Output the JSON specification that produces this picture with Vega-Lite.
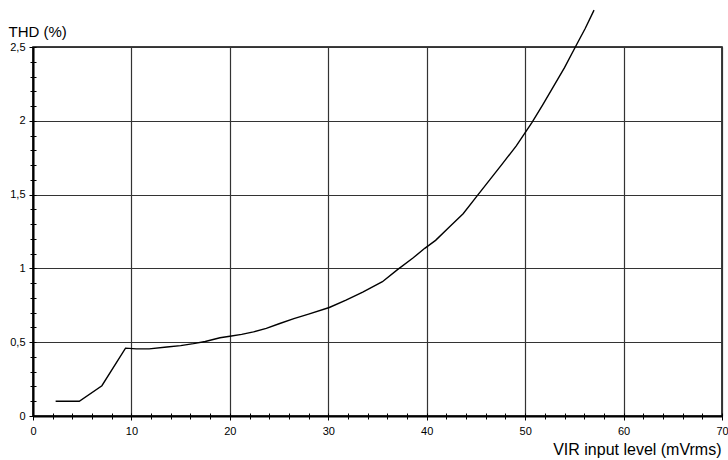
{
  "$schema": "https://vega.github.io/schema/vega-lite/v6.json",
  "width": 689,
  "height": 369,
  "autosize": {"type": "none"},
  "padding": {"left": 33, "top": 47, "right": 6, "bottom": 44},
  "background": "white",
  "config": {
    "view": {"stroke": "#000", "strokeWidth": 1.5},
    "font": "Liberation Sans",
    "axis": {"labelFont": "Liberation Sans", "titleFont": "Liberation Sans", "labelColor": "#000", "titleColor": "#000"}
  },
  "data": {"values": [
    {"x": 2.3, "thd": 0.1},
    {"x": 4.7, "thd": 0.1},
    {"x": 7.0, "thd": 0.205},
    {"x": 9.4, "thd": 0.46},
    {"x": 10.5, "thd": 0.455},
    {"x": 11.8, "thd": 0.455},
    {"x": 13.6, "thd": 0.467},
    {"x": 15.0, "thd": 0.477},
    {"x": 16.3, "thd": 0.49},
    {"x": 17.5, "thd": 0.505},
    {"x": 19.0, "thd": 0.53},
    {"x": 20.0, "thd": 0.54},
    {"x": 21.2, "thd": 0.553},
    {"x": 22.4, "thd": 0.57},
    {"x": 23.7, "thd": 0.594},
    {"x": 25.0, "thd": 0.625},
    {"x": 26.5, "thd": 0.66},
    {"x": 28.0, "thd": 0.69},
    {"x": 30.1, "thd": 0.735},
    {"x": 31.8, "thd": 0.785},
    {"x": 33.5, "thd": 0.84},
    {"x": 35.5, "thd": 0.91},
    {"x": 37.0, "thd": 0.99},
    {"x": 38.6, "thd": 1.07},
    {"x": 39.8, "thd": 1.136},
    {"x": 40.9, "thd": 1.19},
    {"x": 42.3, "thd": 1.28},
    {"x": 43.7, "thd": 1.37},
    {"x": 45.1, "thd": 1.49},
    {"x": 46.4, "thd": 1.6},
    {"x": 47.7, "thd": 1.71},
    {"x": 49.1, "thd": 1.83},
    {"x": 50.7, "thd": 1.99},
    {"x": 51.8, "thd": 2.11},
    {"x": 52.9, "thd": 2.235},
    {"x": 54.0, "thd": 2.36},
    {"x": 55.1, "thd": 2.5},
    {"x": 56.1, "thd": 2.625},
    {"x": 57.0, "thd": 2.75}
  ]},
  "resolve": {"axis": {"x": "independent", "y": "independent"}},
  "layer": [
    {
      "mark": {"type": "line", "stroke": "transparent", "clip": false},
      "encoding": {
        "x": {"field": "x", "type": "quantitative", "scale": {"domain": [0, 70], "nice": false},
          "axis": {"orient": "bottom", "values": [0,2,4,6,8,10,12,14,16,18,20,22,24,26,28,30,32,34,36,38,40,42,44,46,48,50,52,54,56,58,60,62,64,66,68,70], "labels": false, "grid": false, "domain": false, "tickSize": -3, "tickColor": "#000", "tickWidth": 1, "title": null}},
        "y": {"field": "thd", "type": "quantitative", "scale": {"domain": [0, 2.5], "nice": false},
          "axis": {"orient": "left", "values": [0,0.1,0.2,0.3,0.4,0.5,0.6,0.7,0.8,0.9,1,1.1,1.2,1.3,1.4,1.5,1.6,1.7,1.8,1.9,2,2.1,2.2,2.3,2.4,2.5], "labels": false, "grid": false, "domain": false, "tickSize": -3, "tickColor": "#000", "tickWidth": 1, "title": null}}
      }
    },
    {
      "mark": {"type": "line", "stroke": "transparent", "clip": false},
      "encoding": {
        "x": {"field": "x", "type": "quantitative", "scale": {"domain": [0, 70], "nice": false},
          "axis": {"orient": "bottom", "values": [0,2,4,6,8,10,12,14,16,18,20,22,24,26,28,30,32,34,36,38,40,42,44,46,48,50,52,54,56,58,60,62,64,66,68,70], "labels": false, "grid": false, "domain": false, "tickSize": 3, "tickColor": "#000", "tickWidth": 1, "title": null}},
        "y": {"field": "thd", "type": "quantitative", "scale": {"domain": [0, 2.5], "nice": false},
          "axis": {"orient": "left", "values": [0,0.1,0.2,0.3,0.4,0.5,0.6,0.7,0.8,0.9,1,1.1,1.2,1.3,1.4,1.5,1.6,1.7,1.8,1.9,2,2.1,2.2,2.3,2.4,2.5], "labels": false, "grid": false, "domain": false, "tickSize": 3, "tickColor": "#000", "tickWidth": 1, "title": null}}
      }
    },
    {
      "mark": {"type": "line", "color": "#000", "strokeWidth": 1.4, "clip": false},
      "encoding": {
        "x": {"field": "x", "type": "quantitative", "scale": {"domain": [0, 70], "nice": false},
          "axis": {"orient": "bottom", "values": [0,10,20,30,40,50,60,70], "grid": true, "gridColor": "#333", "gridWidth": 1.2, "gridOpacity": 1,
            "domainColor": "#000", "domainWidth": 2, "tickColor": "#000", "tickSize": 4, "tickWidth": 1,
            "labelFontSize": 11, "labelPadding": 5, "labelFlush": false,
            "title": "VIR input level (mVrms)", "titleFontSize": 16, "titleFontWeight": "normal",
            "titleAnchor": "end", "titleAlign": "right", "titleX": 688, "titleY": 38, "titleBaseline": "alphabetic"}},
        "y": {"field": "thd", "type": "quantitative", "scale": {"domain": [0, 2.5], "nice": false},
          "axis": {"orient": "left", "values": [0,0.5,1,1.5,2,2.5], "grid": true, "gridColor": "#333", "gridWidth": 1.2, "gridOpacity": 1,
            "domainColor": "#000", "domainWidth": 2, "tickColor": "#000", "tickSize": 4, "tickWidth": 1,
            "labelFontSize": 11, "labelPadding": 4, "labelFlush": false,
            "labelExpr": "replace(format(datum.value, '~g'), '.', ',')",
            "title": "THD (%)", "titleFontSize": 15, "titleFontWeight": "normal", "titleAngle": 0,
            "titleAlign": "left", "titleX": -25, "titleY": -11, "titleBaseline": "alphabetic"}}
      }
    }
  ]
}
